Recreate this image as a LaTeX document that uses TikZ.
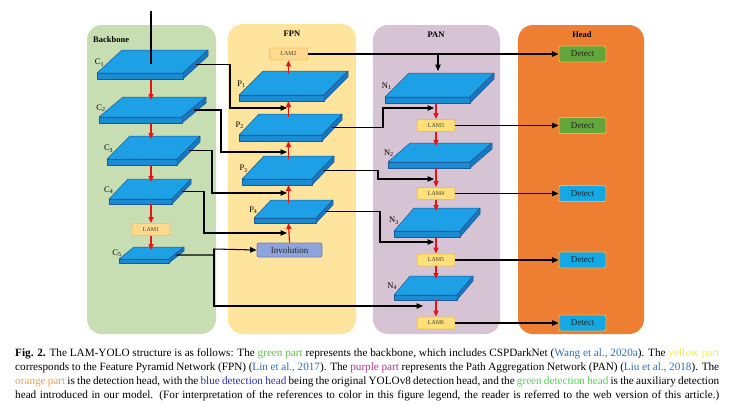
\documentclass[tikz,border=0pt]{standalone}
\usepackage{fontspec}
\setmainfont{Liberation Serif}
\usetikzlibrary{arrows.meta,calc}
\definecolor{bbfill}{RGB}{199,222,179}
\definecolor{fpnfill}{RGB}{255,228,158}
\definecolor{panfill}{RGB}{214,195,211}
\definecolor{headfill}{RGB}{237,126,50}
\definecolor{slabtop}{RGB}{30,160,230}
\definecolor{slabfront}{RGB}{25,140,212}
\definecolor{slabside}{RGB}{22,120,192}
\definecolor{slabline}{RGB}{28,88,150}
\definecolor{redc}{RGB}{232,20,20}
\definecolor{lamAf}{RGB}{255,217,142}
\definecolor{lamAb}{RGB}{246,196,96}
\definecolor{lamBf}{RGB}{255,224,120}
\definecolor{lamBb}{RGB}{240,190,70}
\definecolor{invf}{RGB}{143,163,219}
\definecolor{invb}{RGB}{104,124,190}
\definecolor{detg}{RGB}{98,166,60}
\definecolor{detb}{RGB}{20,168,228}
\definecolor{detbd}{RGB}{240,180,60}
\definecolor{cite}{RGB}{47,110,186}
\definecolor{capgreen}{RGB}{96,190,70}
\definecolor{capyellow}{RGB}{240,240,60}
\definecolor{cappurple}{RGB}{180,50,140}
\definecolor{caporange}{RGB}{240,160,80}
\definecolor{capblue}{RGB}{48,48,190}
\definecolor{capgreen2}{RGB}{80,215,80}
\newcommand\slab[8]{%
  \filldraw[fill=slabfront,draw=slabline,line width=0.5pt,line join=round] (#2,#3) -- (#2+#4,#3) -- (#2+#4,#3+#7) -- (#2,#3+#7) -- cycle;
  \filldraw[fill=slabtop,draw=slabline,line width=0.5pt,line join=round] (#2,#3) -- (#2+#4,#3) -- (#2+#4+#5,#3-#6) -- (#2+#5,#3-#6) -- cycle;
  \filldraw[fill=slabside,draw=slabline,line width=0.5pt,line join=round] (#2+#4,#3) -- (#2+#4+#5,#3-#6) -- (#2+#4+#5,#3-#6+#7) -- (#2+#4,#3+#7) -- cycle;
  \coordinate (#1-s) at (#2+#4+#5/2,#3-#6/2+#7/2);
  \coordinate (#1-t) at (#8,#3-#6+3);
  \coordinate (#1-b) at (#8,#3+#7);
  \coordinate (#1-c) at (#8,#3-#6/2+2);
  \coordinate (#1-l) at (#2+#5*0.45-4,#3-#6*0.45);
}
\begin{document}
\begin{tikzpicture}[x=1pt,y=-1pt,
  title/.style={font=\bfseries\fontsize{8.5}{9}\selectfont,inner sep=0pt},
  lbl/.style={font=\fontsize{8.5}{9}\selectfont,inner sep=0pt,anchor=east},
  conn/.style={draw=black,line width=1.05pt,-{Triangle[length=6.5pt,width=5.5pt]}},
  plain/.style={draw=black,line width=1.05pt},
  redarr/.style={draw=redc,line width=1.2pt,-{Triangle[length=6pt,width=5pt]}},
  lamA/.style={draw=lamAb,fill=lamAf,rounded corners=2pt,line width=0.8pt,minimum width=38pt,minimum height=12pt,inner sep=0pt,font=\fontsize{6}{6}\selectfont,text=black!75},
  lamB/.style={lamA,draw=lamBb,fill=lamBf},
  inv/.style={draw=invb,fill=invf,rounded corners=2pt,line width=0.8pt,minimum width=65pt,minimum height=14pt,inner sep=0pt,font=\fontsize{9}{9}\selectfont,text=black!85},
  det/.style={draw=detbd,rounded corners=2pt,line width=0.9pt,minimum width=47pt,minimum height=16pt,inner sep=0pt,font=\fontsize{9}{9}\selectfont,text=black!85},
  detG/.style={det,fill=detg},
  detB/.style={det,fill=detb}]
\useasboundingbox (0,0) rectangle (735,405);
\fill[white] (0,0) rectangle (735,405);
% panels
\fill[bbfill,rounded corners=15pt] (87,25) rectangle (216,334);
\fill[fpnfill,rounded corners=15pt] (228,24) rectangle (356,334);
\fill[panfill,rounded corners=15pt] (373,25) rectangle (500,334);
\fill[headfill,rounded corners=15pt] (518,25) rectangle (644,334);
\node[title,anchor=west] (tbb) at (93,40) {Backbone};
\node[title] (tfpn) at (292,34) {FPN};
\node[title] (tpan) at (436,35) {PAN};
\node[title] (thead) at (582,35) {Head};
% backbone slabs
\slab{C1}{97}{73}{86}{25}{23}{6}{151}
\slab{C2}{99}{117}{83}{24}{20}{6}{151}
\slab{C3}{107}{159}{70}{23}{23}{6}{151}
\slab{C4}{109}{199}{63}{19}{20}{5}{151}
\slab{C5}{119}{259}{50}{15}{12}{4}{151}
% FPN slabs
\slab{P1}{239}{95}{85}{24}{24}{6}{288.5}
\slab{P2}{239}{135}{83}{20}{21}{6}{288.5}
\slab{P3}{242}{179}{70}{22}{23}{6}{288.5}
\slab{P4}{254}{218}{62}{17}{18}{5}{288.5}
% PAN slabs
\slab{N1}{385}{97}{85}{24}{24}{6}{436}
\slab{N2}{388}{162}{82}{22}{19}{6}{436}
\slab{N3}{394}{231}{66}{20}{23}{6}{436}
\slab{N4}{394}{295}{63}{16}{19}{5}{436}
% slab labels
\node[lbl] (C1l) at (C1-l) {C\textsubscript{1}};
\node[lbl] (C2l) at (C2-l) {C\textsubscript{2}};
\node[lbl] (C3l) at (C3-l) {C\textsubscript{3}};
\node[lbl] (C4l) at (C4-l) {C\textsubscript{4}};
\node[lbl] (C5l) at (C5-l) {C\textsubscript{5}};
\node[lbl] (P1l) at (P1-l) {P\textsubscript{1}};
\node[lbl] (P2l) at (P2-l) {P\textsubscript{2}};
\node[lbl] (P3l) at (P3-l) {P\textsubscript{3}};
\node[lbl] (P4l) at (P4-l) {P\textsubscript{4}};
\node[lbl] (N1l) at (N1-l) {N\textsubscript{1}};
\node[lbl] (N2l) at (N2-l) {N\textsubscript{2}};
\node[lbl] (N3l) at (N3-l) {N\textsubscript{3}};
\node[lbl] (N4l) at (N4-l) {N\textsubscript{4}};
% boxes
\node[lamA] (lam1) at (151,229.5) {LAM1};
\node[lamA] (lam2) at (288.5,54) {LAM2};
\node[lamB] (lam3) at (436,125.5) {LAM3};
\node[lamB] (lam4) at (436,193.5) {LAM4};
\node[lamB] (lam5) at (436,260) {LAM5};
\node[lamB] (lam6) at (436,323) {LAM6};
\node[inv] (inv) at (289.5,250) {Involution};
\node[detG] (det1) at (582.5,54) {Detect};
\node[detG] (det2) at (582.5,125.5) {Detect};
\node[detB] (det3) at (582.5,193.5) {Detect};
\node[detB] (det4) at (582.5,260) {Detect};
\node[detB] (det5) at (582.5,323) {Detect};
% input
\coordinate (in) at (151,11);
\draw[plain] (in) -- (C1-c);
% red arrows backbone
\draw[redarr] (C1-b) -- (C2-t);
\draw[redarr] (C2-b) -- (C3-t);
\draw[redarr] (C3-b) -- (C4-t);
\draw[redarr] (C4-b) -- (lam1.north);
\draw[redarr] (lam1.south) -- (C5-t);
% red arrows FPN
\draw[redarr] (P1-t) -- (lam2.south);
\draw[redarr] (P2-t) -- (P1-b);
\draw[redarr] (P3-t) -- (P2-b);
\draw[redarr] (P4-t) -- (P3-b);
\draw[redarr] (inv.north) -- (P4-b);
% red arrows PAN
\draw[redarr] (N1-b) -- (lam3.north);
\draw[redarr] (lam3.south) -- (N2-t);
\draw[redarr] (N2-b) -- (lam4.north);
\draw[redarr] (lam4.south) -- (N3-t);
\draw[redarr] (N3-b) -- (lam5.north);
\draw[redarr] (lam5.south) -- (N4-t);
\draw[redarr] (N4-b) -- (lam6.north);
% backbone -> FPN
\coordinate (g1) at (287,108); \coordinate (b1) at (230,108);
\coordinate (g2) at (287,152); \coordinate (b2) at (221,152);
\coordinate (g3) at (287,193); \coordinate (b3) at (212,193);
\coordinate (g4) at (287,233); \coordinate (b4) at (204,233);
\draw[conn] (C1-s) -| (b1) -- (g1);
\draw[conn] (C2-s) -| (b2) -- (g2);
\draw[conn] (C3-s) -| (b3) -- (g3);
\draw[conn] (C4-s) -| (b4) -- (g4);
\coordinate (k5) at (214,249);
\coordinate (h4) at (423,306);
\draw[conn] (C5-s) -| (k5) -- (inv.west);
\draw[conn] (k5) |- (h4);
% FPN -> PAN
\coordinate (h1) at (434,108); \coordinate (d1) at (383,108);
\coordinate (h2) at (434,179); \coordinate (d2) at (378,179);
\coordinate (h3) at (434,242); \coordinate (d3) at (380,242);
\draw[conn] (P2-s) -| (d1) -- (h1);
\draw[conn] (P3-s) -| (d2) -- (h2);
\draw[conn] (P4-s) -| (d3) -- (h3);
% to head
\coordinate (k6) at (438,54);
\coordinate (n1in) at (438,71);
\draw[conn] (lam2.east) -- (det1.west);
\draw[conn] (k6) -- (n1in);
\draw[conn] (lam3.east) -- (det2.west);
\draw[conn] (lam4.east) -- (det3.west);
\draw[conn] (lam5.east) -- (det4.west);
\draw[conn] (lam6.east) -- (det5.west);
% caption
\node[anchor=north west,text width=704pt,align=justify,inner sep=0pt,font=\fontsize{11.2}{14.3}\selectfont] (cap) at (15,348) {\parfillskip=0pt
\textbf{Fig. 2.} The LAM-YOLO structure is as follows: The \textcolor{capgreen}{green part} represents the backbone, which includes CSPDarkNet (\textcolor{cite}{Wang et al., 2020a}). The \textcolor{capyellow}{yellow part}\linebreak
corresponds to the Feature Pyramid Network (FPN) (\textcolor{cite}{Lin et al., 2017}). The \textcolor{cappurple}{purple part} represents the Path Aggregation Network (PAN) (\textcolor{cite}{Liu et al., 2018}). The\linebreak
\textcolor{caporange}{orange part} is the detection head, with the \textcolor{capblue}{blue detection head} being the original YOLOv8 detection head, and the \textcolor{capgreen2}{green detection head} is the auxiliary detection\linebreak
head introduced in our model. (For interpretation of the references to color in this figure legend, the reader is referred to the web version of this article.)\par};
\end{tikzpicture}
\end{document}
